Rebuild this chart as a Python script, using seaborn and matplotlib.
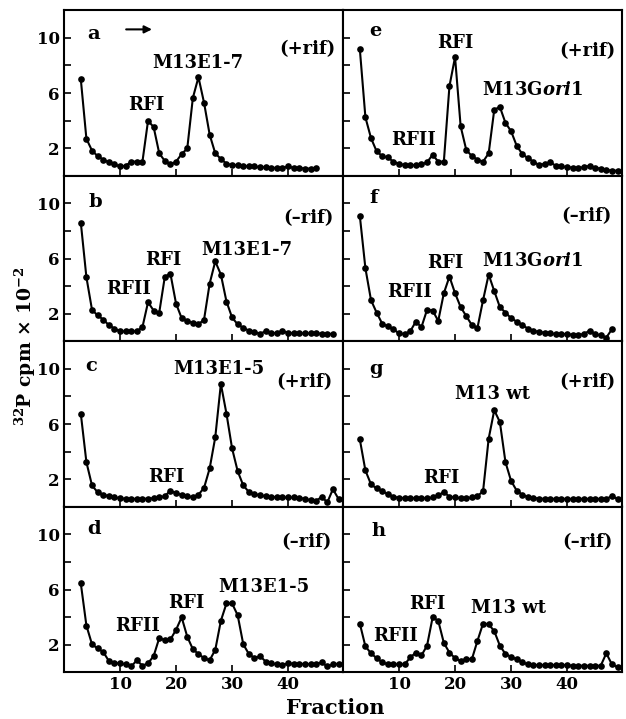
import numpy as np
import pandas as pd
import matplotlib
matplotlib.use("Agg")
import matplotlib.pyplot as plt
import seaborn as sns

sns.set_style("ticks")
plt.rcParams["font.family"] = ["DejaVu Serif"]
plt.rcParams["font.weight"] = "bold"
plt.rcParams["mathtext.fontset"] = "dejavuserif"
for key in ["text.color", "axes.labelcolor", "xtick.color", "ytick.color", "axes.edgecolor"]:
    plt.rcParams[key] = "black"

# ---- data (32P cpm x 10^-2), fractions start at 3 ----
start_fraction = 3
panel_a = [7.0, 2.7, 1.85, 1.45, 1.2, 1.0, 0.85, 0.7, 0.75, 1.05, 1.05, 1.05, 4.0, 3.55, 1.65,
           1.1, 0.85, 1.05, 1.6, 2.0, 5.65, 7.15, 5.3, 3.0, 1.65, 1.25, 0.9, 0.8, 0.8, 0.75,
           0.7, 0.7, 0.65, 0.65, 0.6, 0.6, 0.6, 0.7, 0.6, 0.6, 0.55, 0.55, 0.6]
panel_b = [8.6, 4.65, 2.3, 1.9, 1.6, 1.2, 0.95, 0.75, 0.75, 0.75, 0.75, 1.05, 2.85, 2.25, 2.1,
           4.7, 4.9, 2.75, 1.7, 1.5, 1.35, 1.25, 1.6, 4.2, 5.8, 4.85, 2.9, 1.75, 1.25, 1.0,
           0.8, 0.7, 0.58, 0.75, 0.62, 0.62, 0.8, 0.62, 0.62, 0.6, 0.6, 0.6, 0.6, 0.58, 0.58, 0.55]
panel_c = [6.75, 3.25, 1.57, 1.08, 0.9, 0.8, 0.7, 0.65, 0.6, 0.6, 0.6, 0.6, 0.62, 0.65, 0.7,
           0.8, 1.2, 1.0, 0.9, 0.8, 0.72, 0.9, 1.4, 2.8, 5.05, 8.9, 6.75, 4.25, 2.6, 1.57,
           1.1, 0.95, 0.85, 0.8, 0.75, 0.72, 0.7, 0.7, 0.7, 0.68, 0.6, 0.5, 0.45, 0.75, 0.35, 1.3, 0.6]
panel_d = [6.45, 3.4, 2.05, 1.75, 1.5, 0.85, 0.68, 0.68, 0.6, 0.45, 0.9, 0.5, 0.68, 1.2, 2.5,
           2.35, 2.4, 3.1, 4.0, 2.6, 1.7, 1.35, 1.05, 0.9, 1.65, 3.75, 5.0, 5.0, 4.15, 2.05,
           1.35, 1.05, 1.2, 0.8, 0.68, 0.6, 0.55, 0.68, 0.65, 0.65, 0.62, 0.62, 0.62, 0.75, 0.45, 0.6, 0.65]
panel_e = [9.2, 4.25, 2.75, 1.8, 1.45, 1.35, 1.05, 0.9, 0.8, 0.8, 0.8, 0.85, 1.0, 1.55, 1.05,
           1.05, 6.5, 8.6, 3.6, 1.9, 1.45, 1.2, 1.05, 1.65, 4.8, 5.0, 3.85, 3.25, 2.2, 1.6,
           1.3, 1.05, 0.8, 0.9, 1.0, 0.75, 0.7, 0.65, 0.62, 0.6, 0.65, 0.75, 0.6, 0.55, 0.45, 0.4, 0.4]
panel_f = [9.1, 5.3, 3.0, 2.1, 1.3, 1.1, 0.9, 0.6, 0.55, 0.75, 1.45, 1.05, 2.3, 2.25, 1.5,
           3.5, 4.7, 3.5, 2.5, 1.85, 1.2, 1.0, 3.0, 4.85, 3.65, 2.5, 2.1, 1.7, 1.45, 1.2,
           0.95, 0.8, 0.7, 0.65, 0.6, 0.55, 0.55, 0.55, 0.5, 0.5, 0.55, 0.8, 0.55, 0.45, 0.3, 0.9]
panel_g = [4.9, 2.65, 1.65, 1.35, 1.15, 0.95, 0.75, 0.68, 0.65, 0.65, 0.65, 0.65, 0.65, 0.7, 0.85,
           1.1, 0.75, 0.7, 0.65, 0.65, 0.7, 0.8, 1.15, 4.95, 7.0, 6.15, 3.25, 1.9, 1.2, 0.9,
           0.75, 0.68, 0.62, 0.6, 0.6, 0.6, 0.6, 0.6, 0.6, 0.6, 0.6, 0.6, 0.6, 0.6, 0.6, 0.8, 0.6]
panel_h = [3.55, 1.9, 1.4, 1.05, 0.75, 0.6, 0.6, 0.6, 0.6, 1.1, 1.45, 1.25, 1.95, 4.0, 3.75,
           2.15, 1.45, 1.05, 0.85, 1.0, 0.97, 2.3, 3.55, 3.5, 3.0, 1.95, 1.35, 1.15, 0.97, 0.75,
           0.6, 0.55, 0.55, 0.55, 0.55, 0.55, 0.55, 0.55, 0.5, 0.5, 0.5, 0.5, 0.5, 0.5, 1.4, 0.6, 0.4]

panel_letters = ["a", "b", "c", "d", "e", "f", "g", "h"]
panel_values = [panel_a, panel_b, panel_c, panel_d, panel_e, panel_f, panel_g, panel_h]
conditions = ["(+rif)", "(\u2013rif)", "(+rif)", "(\u2013rif)", "(+rif)", "(\u2013rif)", "(+rif)", "(\u2013rif)"]
gori = r"M13G$\mathbfit{ori}$1"
# peak labels: (text, fraction, value)
peak_labels = {
    "a": [("RFI", 14.7, 5.15), ("M13E1-7", 23.8, 8.2)],
    "b": [("RFII", 11.5, 3.8), ("RFI", 17.8, 5.9), ("M13E1-7", 32.6, 6.6)],
    "c": [("RFI", 18.2, 2.2), ("M13E1-5", 27.7, 10.0)],
    "d": [("RFII", 13.1, 3.4), ("RFI", 21.9, 5.0), ("M13E1-5", 35.7, 6.2)],
    "e": [("RFII", 12.6, 2.6), ("RFI", 20.1, 9.6), (gori, 33.8, 6.2)],
    "f": [("RFII", 11.8, 3.6), ("RFI", 18.3, 5.7), (gori, 33.8, 5.8)],
    "g": [("RFI", 17.5, 2.1), ("M13 wt", 26.7, 8.15)],
    "h": [("RFII", 9.3, 2.65), ("RFI", 15.1, 4.95), ("M13 wt", 29.6, 4.65)],
}
letter_pos = {"a": (5.3, 10.3), "b": (5.6, 10.1), "c": (4.8, 10.2), "d": (5.3, 10.4),
              "e": (5.8, 10.5), "f": (5.5, 10.4), "g": (5.9, 10.0), "h": (6.3, 10.2)}
cond_pos = {"a": (43.5, 9.2), "b": (43.7, 8.9), "c": (42.9, 9.0), "d": (43.2, 9.45),
            "e": (43.6, 9.0), "f": (43.4, 9.05), "g": (43.7, 9.0), "h": (43.6, 9.4)}

x_ticks = [10, 20, 30, 40]
y_ticks = [2, 4, 6, 8, 10]
y_ticklabels = ["2", "", "6", "", "10"]

W, H = 626, 719
fig = plt.figure(figsize=(W / 100, H / 100), dpi=100)

col_left = [64 / W, 343 / W]
col_w = 279 / W
row_h = 165.5 / H
row_bottom = [(H - 10 - 165.5 * (i + 1)) / H for i in range(4)]

for idx, (letter, vals) in enumerate(zip(panel_letters, panel_values)):
    col = idx // 4
    row = idx % 4
    ax = fig.add_axes([col_left[col], row_bottom[row], col_w, row_h])
    df = pd.DataFrame({"fraction": np.arange(start_fraction, start_fraction + len(vals)),
                       "cpm": vals})
    sns.lineplot(data=df, x="fraction", y="cpm", ax=ax, color="black", linewidth=1.5,
                 marker="o", markersize=4.8, markeredgewidth=0, markerfacecolor="black")
    ax.set_xlim(0, 49.8)
    ax.set_ylim(0.05, 12)
    ax.set_xticks(x_ticks)
    ax.set_yticks(y_ticks)
    ax.set_yticklabels(y_ticklabels)
    ax.set_xlabel("")
    ax.set_ylabel("")
    ax.tick_params(direction="in", length=5, width=1.2, labelsize=12, pad=3, colors="black")
    if col == 1:
        ax.tick_params(labelleft=False)
    if row < 3:
        ax.tick_params(labelbottom=False)
    for s in ax.spines.values():
        s.set_linewidth(1.5)
        s.set_color("black")
    lx, ly = letter_pos[letter]
    ax.text(lx, ly, letter, ha="center", va="center", fontsize=14, fontweight="bold", color="black")
    cx, cy = cond_pos[letter]
    ax.text(cx, cy, conditions[idx], ha="center", va="center", fontsize=13, fontweight="bold", color="black")
    for txt, px, py in peak_labels[letter]:
        ax.text(px, py, txt, ha="center", va="center", fontsize=13, fontweight="bold", color="black")
    if letter == "a":
        ax.annotate("", xy=(16.2, 10.6), xytext=(10.6, 10.6),
                    arrowprops=dict(arrowstyle="-|>", color="black", lw=1.5, mutation_scale=11))

fig.text(25 / W, 1 - 346 / H, r"$^{\mathbf{32}}$P cpm $\mathbf{\times}$ 10$^{\mathbf{-2}}$",
         rotation=90, ha="center", va="center", fontsize=13.5, fontweight="bold", color="black")
fig.text(335 / W, 1 - 708 / H, "Fraction", ha="center", va="center", fontsize=15,
         fontweight="bold", color="black")

fig.savefig("out.png", dpi=100)
